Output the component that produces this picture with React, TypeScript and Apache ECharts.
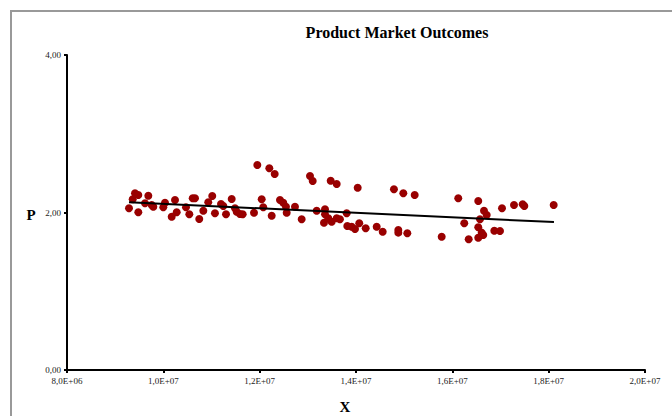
import React, { useEffect, useRef } from "react";
import * as echarts from "echarts";

const xValues = [
  9.287e6, 9.412e6, 9.48e6, 9.364e6, 9.48e6, 9.688e6, 9.619e6, 9.758e6, 9.792e6, 9.999e6,
  10.034e6, 10.242e6, 10.174e6, 10.277e6, 10.47e6, 10.539e6, 10.61e6, 10.657e6, 10.746e6, 10.83e6,
  10.933e6, 11.016e6, 11.072e6, 11.197e6, 11.245e6, 11.301e6, 11.419e6, 11.488e6, 11.523e6, 11.591e6,
  11.648e6, 11.882e6, 11.951e6, 12.042e6, 12.075e6, 12.2e6, 12.312e6, 12.25e6, 12.422e6, 12.49e6,
  12.546e6, 12.561e6, 12.733e6, 12.872e6, 13.045e6, 13.101e6, 13.184e6, 13.356e6, 13.356e6, 13.335e6,
  13.425e6, 13.474e6, 13.599e6, 13.495e6, 13.599e6, 13.667e6, 13.807e6, 13.819e6, 13.91e6, 13.979e6,
  14.035e6, 14.068e6, 14.201e6, 14.429e6, 14.554e6, 14.788e6, 14.878e6, 14.878e6, 14.982e6, 15.065e6,
  15.218e6, 15.779e6, 16.123e6, 16.248e6, 16.339e6, 16.538e6, 16.657e6, 16.713e6, 16.574e6, 16.538e6,
  16.609e6, 16.642e6, 16.538e6, 16.871e6, 16.989e6, 17.031e6, 17.28e6, 17.46e6, 17.494e6, 18.104e6,
];

const pValues = [
  2.053, 2.244, 2.222, 2.168, 2.003, 2.213, 2.117, 2.095, 2.074, 2.066,
  2.124, 2.159, 1.947, 2.003, 2.066, 1.977, 2.18, 2.18, 1.917, 2.023,
  2.13, 2.21, 1.99, 2.108, 2.083, 1.977, 2.171, 2.053, 2.01, 1.981,
  1.977, 1.997, 2.603, 2.168, 2.066, 2.561, 2.489, 1.959, 2.159, 2.124,
  2.074, 1.997, 2.074, 1.914, 2.463, 2.4, 2.023, 2.041, 1.977, 1.87,
  1.926, 2.404, 2.362, 1.883, 1.926, 1.914, 1.99, 1.829, 1.82, 1.79,
  2.315, 1.863, 1.799, 1.82, 1.756, 2.295, 1.778, 1.744, 2.244, 1.736,
  2.222, 1.693, 2.18, 1.863, 1.66, 2.146, 2.023, 1.968, 1.914, 1.812,
  1.744, 1.714, 1.68, 1.769, 1.765, 2.053, 2.095, 2.104, 2.083, 2.095,
];

const trendX = [9.287e6, 18.11e6];
const trendY = [2.13, 1.879];

const xTicks = { min: 8e6, max: 2e7, interval: 2e6 };
const yTicks = { min: 0, max: 4, interval: 2 };

const FONT = "Liberation Serif, Times New Roman, serif";

function fmtX(v: number): string {
  if (v === 0) return "0,0E+00";
  const exp = Math.floor(Math.log10(Math.abs(v)) + 1e-9);
  const mant = v / Math.pow(10, exp);
  const e = Math.abs(exp).toString().padStart(2, "0");
  return mant.toFixed(1).replace(".", ",") + "E" + (exp >= 0 ? "+" : "-") + e;
}

export default function App() {
  const ref = useRef<HTMLDivElement>(null);
  useEffect(() => {
    if (!ref.current) return;
    const chart = echarts.init(ref.current, undefined, { renderer: "svg" });
    const points = xValues.map((x, i) => [x, pValues[i]]);
    const trend = trendX.map((x, i) => [x, trendY[i]]);
    chart.setOption({
      animation: false,
      backgroundColor: "#ffffff",
      textStyle: { fontFamily: FONT },
      grid: { left: 67, top: 55, width: 578, height: 315, containLabel: false },
      xAxis: {
        type: "value",
        min: xTicks.min,
        max: xTicks.max,
        interval: xTicks.interval,
        axisLine: { show: true, onZero: false, lineStyle: { color: "#000", width: 2 } },
        axisTick: { show: true, inside: false, length: 3, lineStyle: { color: "#000", width: 2 } },
        axisLabel: { formatter: (v: number) => fmtX(v), fontFamily: FONT, fontSize: 9, color: "#222", margin: 6 },
        splitLine: { show: false },
      },
      yAxis: {
        type: "value",
        min: yTicks.min,
        max: yTicks.max,
        interval: yTicks.interval,
        axisLine: { show: true, lineStyle: { color: "#000", width: 2 } },
        axisTick: { show: true, inside: false, length: 3, lineStyle: { color: "#000", width: 2 } },
        axisLabel: { formatter: (v: number) => v.toFixed(2).replace(".", ","), fontFamily: FONT, fontSize: 9, color: "#222", margin: 6 },
        splitLine: { show: false },
      },
      graphic: [
        { type: "rect", shape: { x: 11, y: 11, width: 720, height: 460 }, style: { fill: "none", stroke: "#999", lineWidth: 2 }, z: 100, silent: true },
        { type: "text", x: 397, y: 32, style: { text: "Product Market Outcomes", font: `bold 16px ${FONT}`, fill: "#000", textAlign: "center", textVerticalAlign: "middle" } },
        { type: "text", x: 31, y: 215, style: { text: "P", font: `bold 15px ${FONT}`, fill: "#000", textAlign: "center", textVerticalAlign: "middle" } },
        { type: "text", x: 345, y: 407, style: { text: "X", font: `bold 15px ${FONT}`, fill: "#000", textAlign: "center", textVerticalAlign: "middle" } },
      ],
      series: [
        {
          type: "scatter",
          data: points,
          symbol: "circle",
          symbolSize: 8,
          itemStyle: { color: "#990000", opacity: 1 },
          z: 2,
        },
        {
          type: "line",
          data: trend,
          symbol: "none",
          lineStyle: { color: "#000", width: 2 },
          z: 3,
        },
      ],
    });
    return () => chart.dispose();
  }, []);
  return <div ref={ref} style={{ position: "fixed", left: 0, top: 0, width: 672, height: 416 }} />;
}
